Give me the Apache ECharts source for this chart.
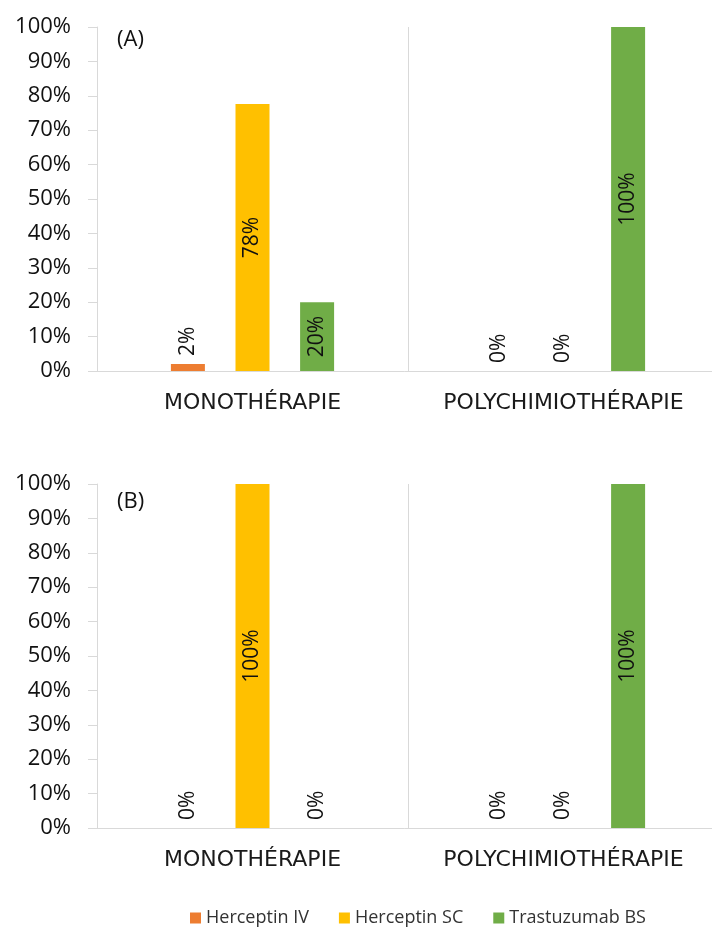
<!DOCTYPE html>
<html>
<head>
<meta charset="utf-8">
<script src="https://cdn.jsdelivr.net/npm/echarts@6.0.0/dist/echarts.min.js"></script>
<style>
    html, body { margin: 0; padding: 0; background: #fff; }
    #main { width: 712px; height: 929px; }
</style>
</head>
<body>
<div id="main"></div>
<script>
    // categories and values
    var categories = ['MONOTHÉRAPIE', 'POLYCHIMIOTHÉRAPIE'];
    var seriesNames = ['Herceptin IV', 'Herceptin SC', 'Trastuzumab BS'];
    var seriesColors = ['#ED7D31', '#FFC000', '#70AD47'];

    // panel (A)
    var a_iv = [2, 0];
    var a_sc = [77.6, 0];
    var a_bs = [20, 100];

    // panel (B)
    var b_iv = [0, 0];
    var b_sc = [100, 0];
    var b_bs = [0, 100];

    var panelLabels = ['(A)', '(B)'];

    var tickFont = 'Open Sans';
    var lineGray = '#d9d9d9';

    // small bars get their label above the bar
    function toItems(arr) {
        return arr.map(function (v) {
            if (v < 10) {
                return {
                    value: v,
                    label: { position: 'top', align: 'left', verticalAlign: 'middle', distance: 8 }
                };
            }
            return v;
        });
    }

    function makeSeries(gridIdx, values) {
        var out = [];
        for (var i = 0; i < values.length; i++) {
            out.push({
                name: seriesNames[i],
                type: 'bar',
                xAxisIndex: gridIdx,
                yAxisIndex: gridIdx,
                barWidth: 34,
                barGap: '90%',
                itemStyle: { color: seriesColors[i] },
                label: {
                    show: true,
                    position: 'inside',
                    rotate: 90,
                    fontFamily: tickFont,
                    fontSize: 21,
                    color: '#111',
                    formatter: function (p) { return Math.round(p.value) + '%'; }
                },
                data: toItems(values[i])
            });
        }
        return out;
    }

    function xAxisFor(gridIdx) {
        return {
            type: 'category',
            gridIndex: gridIdx,
            data: categories,
            axisLine: { lineStyle: { color: lineGray } },
            axisTick: { show: false },
            splitLine: { show: true, interval: 0, lineStyle: { color: lineGray, width: 1 } },
            axisLabel: {
                interval: 0,
                fontFamily: 'DejaVu Sans',
                fontSize: 22,
                color: '#1a1a1a',
                margin: 21
            }
        };
    }

    function yAxisFor(gridIdx) {
        return {
            type: 'value',
            gridIndex: gridIdx,
            min: 0,
            max: 100,
            interval: 10,
            axisLine: { show: true, lineStyle: { color: lineGray } },
            axisTick: { show: true, length: 9, lineStyle: { color: lineGray } },
            splitLine: { show: false },
            axisLabel: {
                fontFamily: tickFont,
                fontSize: 22,
                color: '#111',
                margin: 26,
                formatter: '{value}%'
            }
        };
    }

    var chart = echarts.init(document.getElementById('main'));
    var option = {
        animation: false,
        title: [
            { text: panelLabels[0], left: 112, top: 24, textStyle: { fontFamily: tickFont, fontSize: 22, fontWeight: 'normal', color: '#111' } },
            { text: panelLabels[1], left: 112, top: 486, textStyle: { fontFamily: tickFont, fontSize: 22, fontWeight: 'normal', color: '#111' } }
        ],
        legend: {
            data: seriesNames,
            left: 185,
            top: 904,
            itemWidth: 11,
            itemHeight: 11,
            itemGap: 30,
            icon: 'rect',
            textStyle: { fontFamily: tickFont, fontSize: 18, color: '#333' }
        },
        grid: [
            { left: 97, width: 622, top: 27, height: 344, outerBoundsMode: 'none' },
            { left: 97, width: 622, top: 484, height: 344, outerBoundsMode: 'none' }
        ],
        xAxis: [xAxisFor(0), xAxisFor(1)],
        yAxis: [yAxisFor(0), yAxisFor(1)],
        series: makeSeries(0, [a_iv, a_sc, a_bs]).concat(makeSeries(1, [b_iv, b_sc, b_bs]))
    };
    chart.setOption(option, true);
</script>
</body>
</html>
